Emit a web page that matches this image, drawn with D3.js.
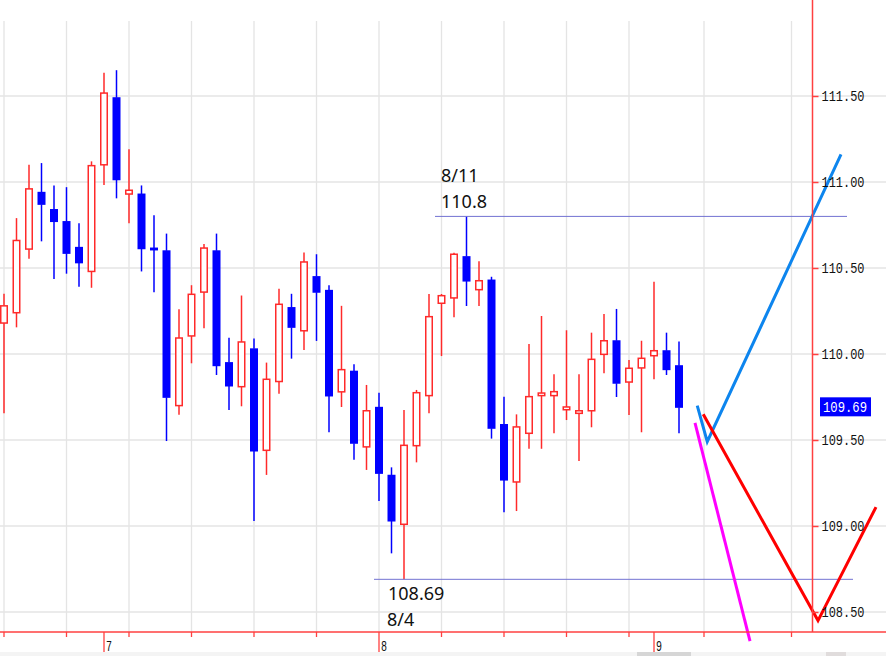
<!DOCTYPE html>
<html><head><meta charset="utf-8">
<script src="https://cdn.jsdelivr.net/npm/d3@7"></script>
<style>
html,body{margin:0;padding:0;background:#fff;overflow:hidden;}
svg{display:block;}
</style></head>
<body>
<svg id="chart" width="886" height="656"></svg>
<script>
// ---- data ----
const opens  = [110.18,110.24,110.61,110.94,110.84,110.77,110.62,110.48,111.10,111.49,110.93,110.93,110.616,110.60,109.70,110.105,110.36,110.60,109.95,109.81,110.03,109.44,109.84,110.27,110.135,110.45,110.37,109.78,109.90,109.46,109.69,109.295,109.01,109.467,109.758,110.295,110.326,110.566,110.374,110.43,109.59,109.256,109.539,109.758,109.758,109.676,109.655,109.67,109.998,110.077,109.837,109.919,109.99,110.019,109.932];
const highs  = [110.35,110.79,111.10,111.11,110.98,110.97,110.76,111.12,111.635,111.65,111.19,110.98,110.806,110.70,110.26,110.40,110.64,110.70,110.095,110.34,110.09,109.95,110.38,110.35,110.59,110.58,110.40,110.28,109.94,109.82,109.775,109.341,109.674,109.791,110.349,110.349,110.589,110.80,110.539,110.449,109.752,109.649,110.058,110.221,109.882,110.138,109.882,110.124,110.233,110.262,109.965,110.077,110.42,110.124,110.072];
const lows   = [109.655,110.155,110.554,110.655,110.436,110.467,110.391,110.385,110.983,110.905,110.76,110.48,110.359,109.494,109.647,109.946,110.149,109.878,109.674,109.696,109.029,109.297,109.769,109.973,110.023,110.076,109.545,109.692,109.385,109.326,109.145,108.841,108.69,109.37,109.655,109.988,110.213,110.279,110.279,109.508,109.08,109.087,109.449,109.449,109.539,109.616,109.378,109.574,109.888,109.75,109.645,109.545,109.853,109.878,109.539];
const closes = [110.28,110.66,110.96,110.87,110.77,110.585,110.53,111.095,111.517,111.013,110.952,110.612,110.605,109.748,110.093,110.347,110.616,109.932,109.814,110.07,109.436,109.853,110.289,110.155,110.535,110.359,109.756,109.909,109.481,109.67,109.306,109.029,109.469,109.775,110.217,110.339,110.58,110.424,110.426,109.568,109.267,109.576,109.752,109.773,109.781,109.692,109.67,109.969,110.077,109.83,109.917,109.975,110.019,109.909,109.69];

const priceTicks = [108.5,109.0,109.5,110.0,110.5,111.0,111.5];
const gridIndex  = [0,5,10,15,20,25,30,35,40,45,50,56,63];
const dayIndex   = [8,30,52];
const dayLabels  = ["7","8","9"];
const lastPrice  = 109.69;

// projection lines [index, price]
const blueProj    = [[55.46,109.70],[56.26,109.49],[66.96,111.16]];
const redProj     = [[55.94,109.65],[65.12,108.45],[69.76,109.11]];
const magentaProj = [[55.28,109.60],[59.68,108.33]];

// horizontal markers
const highLine = {from:34.48, to:67.44, price:110.8, date:"8/11", text:"110.8"};
const lowLine  = {from:29.6,  to:67.92, price:108.69, date:"8/4", text:"108.69"};

// ---- scales ----
const W = 886, H = 656;
const axisX = 812.5, axisY = 632;
const x = d3.scaleLinear().domain([0,54]).range([4,679]);
const y = d3.scaleLinear().domain([108.5,111.5]).range([612,96]);

const svg = d3.select("#chart");

svg.append("defs").append("clipPath").attr("id","plot")
  .append("rect").attr("x",0).attr("y",0).attr("width",W).attr("height",axisY);

// grid
const grid = svg.append("g");
grid.selectAll("line.v").data(gridIndex).join("line")
  .attr("x1",d=>x(d)).attr("x2",d=>x(d)).attr("y1",21).attr("y2",axisY)
  .attr("stroke","#e4e4e4").attr("stroke-width",1.3);
grid.selectAll("line.h").data(priceTicks).join("line")
  .attr("x1",0).attr("x2",W).attr("y1",d=>y(d)).attr("y2",d=>y(d))
  .attr("stroke","#e4e4e4").attr("stroke-width",1.3);

// candles
const data = opens.map((o,i)=>({i,o,h:highs[i],l:lows[i],c:closes[i]}));
const cg = svg.append("g").attr("clip-path","url(#plot)");
const bw = 8;
data.forEach(d=>{
  const up = d.c >= d.o;
  const col = up ? "#ff2a2a" : "#0000ff";
  const top = y(Math.max(d.o,d.c)), bot = y(Math.min(d.o,d.c));
  cg.append("line").attr("x1",x(d.i)).attr("x2",x(d.i))
    .attr("y1",y(d.h)).attr("y2",top).attr("stroke",col).attr("stroke-width",1.5);
  cg.append("line").attr("x1",x(d.i)).attr("x2",x(d.i))
    .attr("y1",bot).attr("y2",y(d.l)).attr("stroke",col).attr("stroke-width",1.5);
  if(up){
    cg.append("rect").attr("x",x(d.i)-bw/2+0.75).attr("y",top)
      .attr("width",bw-1.5).attr("height",Math.max(bot-top,2))
      .attr("fill","#fff").attr("stroke",col).attr("stroke-width",1.5);
  } else {
    cg.append("rect").attr("x",x(d.i)-bw/2).attr("y",top-0.5)
      .attr("width",bw).attr("height",Math.max(bot-top,1.5)+1)
      .attr("fill",col);
  }
});

// horizontal marker lines + labels
[highLine,lowLine].forEach(m=>{
  svg.append("line").attr("x1",x(m.from)).attr("x2",x(m.to))
    .attr("y1",y(m.price)).attr("y2",y(m.price))
    .attr("stroke","#7272d2").attr("stroke-width",1);
});
const tf = "'Noto Sans', 'Open Sans', sans-serif";
svg.append("text").attr("x",x(highLine.from)+6).attr("y",y(highLine.price)-34)
  .attr("font-family",tf).attr("font-size",18).attr("fill","#111").text(highLine.date);
svg.append("text").attr("x",x(highLine.from)+6).attr("y",y(highLine.price)-8)
  .attr("font-family",tf).attr("font-size",18).attr("fill","#111").text(highLine.text);
svg.append("text").attr("x",x(lowLine.from)+14).attr("y",y(lowLine.price)+21)
  .attr("font-family",tf).attr("font-size",18).attr("fill","#111").text(lowLine.text);
svg.append("text").attr("x",x(lowLine.from)+13).attr("y",y(lowLine.price)+47)
  .attr("font-family",tf).attr("font-size",18).attr("fill","#111").text(lowLine.date);

// projection lines
const line = d3.line().x(d=>x(d[0])).y(d=>y(d[1]));
svg.append("path").attr("d",line(blueProj)).attr("fill","none")
  .attr("stroke","#0d85ee").attr("stroke-width",3);
svg.append("path").attr("d",line(magentaProj)).attr("fill","none")
  .attr("stroke","#ff00ff").attr("stroke-width",3);
svg.append("path").attr("d",line(redProj)).attr("fill","none")
  .attr("stroke","#ff0000").attr("stroke-width",3);

// axes lines
svg.append("line").attr("x1",0).attr("x2",W).attr("y1",axisY).attr("y2",axisY)
  .attr("stroke","#ff4040").attr("stroke-width",1.5);
svg.append("line").attr("x1",axisX).attr("x2",axisX).attr("y1",0).attr("y2",axisY)
  .attr("stroke","#ff4040").attr("stroke-width",1.5);

// y axis
const yAxis = d3.axisRight(y).tickValues(priceTicks).tickFormat(d3.format(".2f"))
  .tickSize(6).tickPadding(3);
const ya = svg.append("g").attr("transform",`translate(${axisX},0)`).call(yAxis);
ya.select(".domain").remove();
ya.selectAll(".tick line").attr("stroke","#ff4040").attr("stroke-width",1.5);
ya.selectAll(".tick text").attr("fill","#111")
  .attr("font-family","'Liberation Mono', 'DejaVu Sans Mono', monospace").attr("font-size",15)
  .attr("textLength",43).attr("lengthAdjust","spacingAndGlyphs");

// last price badge
svg.append("rect").attr("x",820).attr("y",y(lastPrice)-10).attr("width",51).attr("height",19)
  .attr("fill","#0000ff");
svg.append("text").attr("x",823).attr("y",y(lastPrice)+5).attr("fill","#fff")
  .attr("font-family","'Liberation Mono', 'DejaVu Sans Mono', monospace").attr("font-size",15)
  .attr("textLength",44).attr("lengthAdjust","spacingAndGlyphs")
  .text(d3.format(".2f")(lastPrice));

// x axis ticks
const xa = svg.append("g");
xa.selectAll("line.minor").data(gridIndex.filter(g=>!dayIndex.includes(g))).join("line")
  .attr("x1",d=>x(d)).attr("x2",d=>x(d)).attr("y1",axisY).attr("y2",axisY+5)
  .attr("stroke","#ff4040").attr("stroke-width",1.3);
xa.selectAll("line.major").data(dayIndex).join("line")
  .attr("x1",d=>x(d)).attr("x2",d=>x(d)).attr("y1",axisY).attr("y2",axisY+21)
  .attr("stroke","#ff4040").attr("stroke-width",1.3);
xa.selectAll("text").data(dayIndex).join("text")
  .attr("x",d=>x(d)+2).attr("y",axisY+19)
  .attr("font-family","'Liberation Mono', 'DejaVu Sans Mono', monospace").attr("font-size",14)
  .attr("fill","#111").attr("textLength",6).attr("lengthAdjust","spacingAndGlyphs")
  .text((d,i)=>dayLabels[i]);

// bottom scroll strip
svg.append("rect").attr("x",0).attr("y",652).attr("width",W).attr("height",4).attr("fill","#f4f4f4");
svg.append("rect").attr("x",637).attr("y",652).attr("width",54).attr("height",4).attr("fill","#d6d6d6");
svg.append("rect").attr("x",826).attr("y",652).attr("width",20).attr("height",4).attr("fill","#e0dcdc");
</script>
</body></html>
